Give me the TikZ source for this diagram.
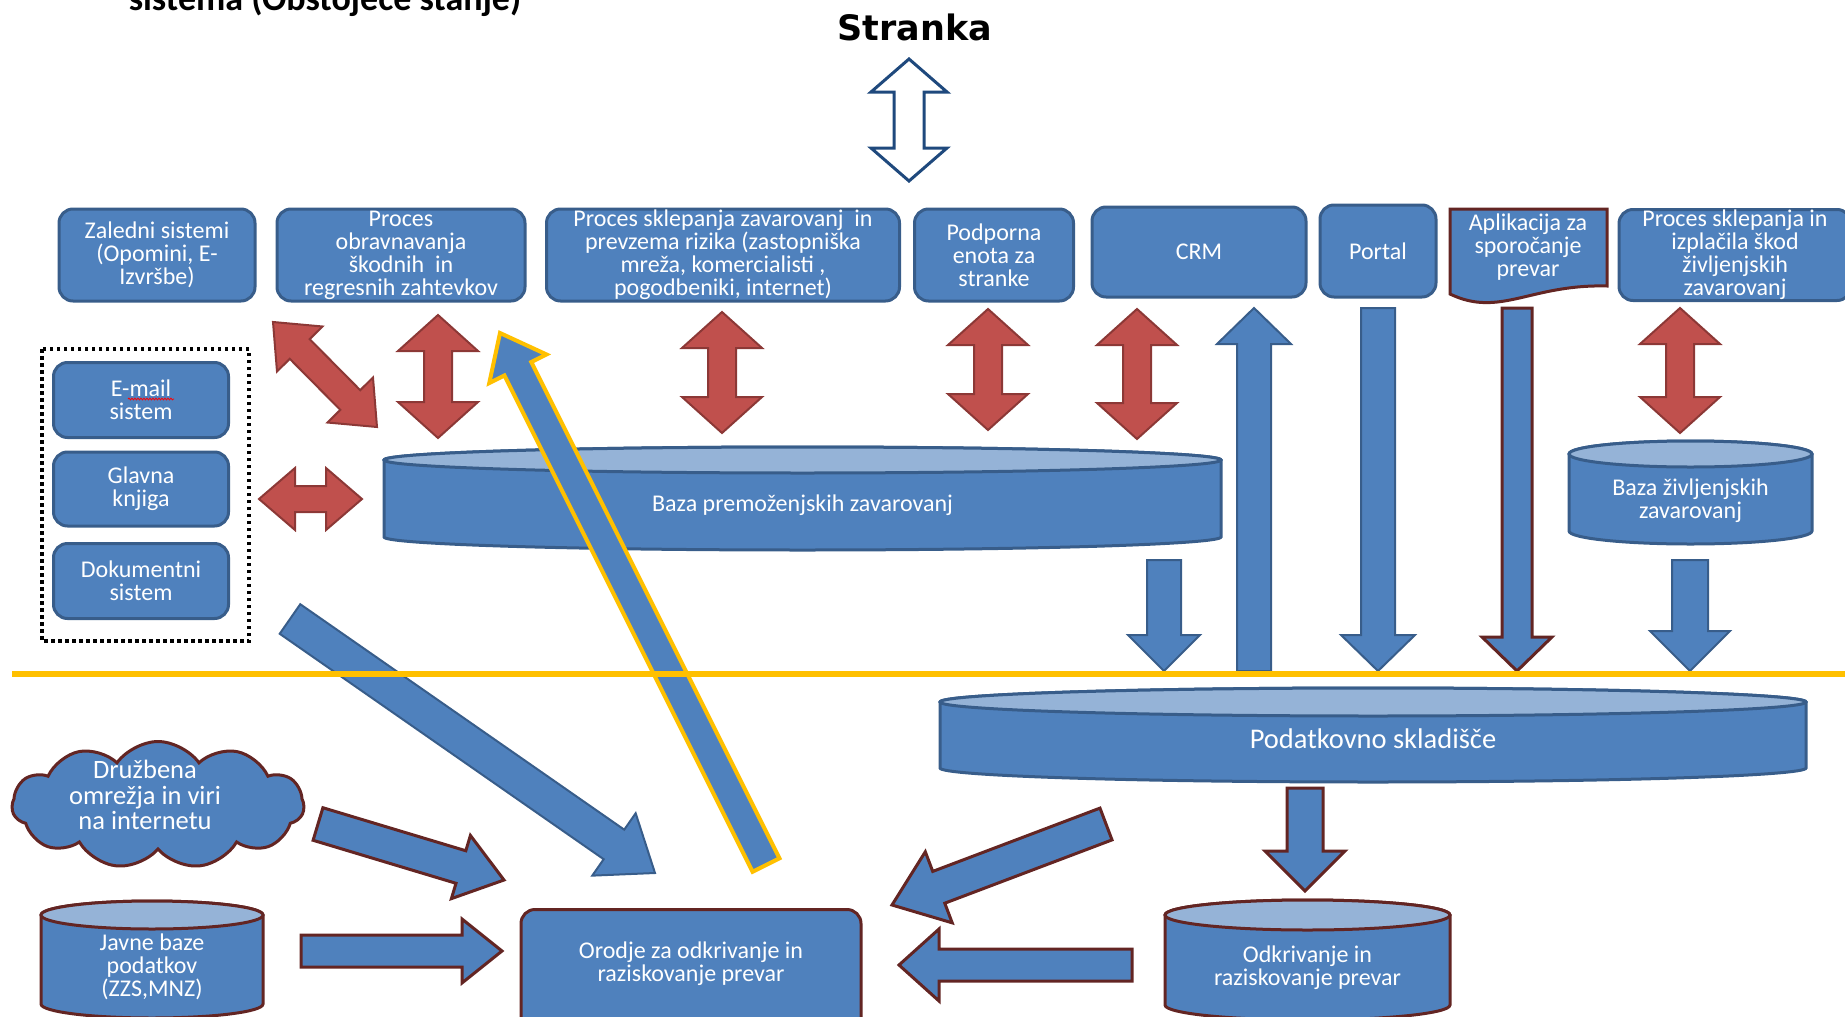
\documentclass[tikz,border=0pt]{standalone}
\usepackage{fontspec}
\setmainfont{Carlito}
\newfontfamily\strankafont{DejaVu Sans}
\usetikzlibrary{calc,shapes.symbols,decorations.pathmorphing}

\definecolor{boxfill}{HTML}{4F81BD}
\definecolor{boxline}{HTML}{385D8A}
\definecolor{cyltop}{HTML}{95B3D7}
\definecolor{redfill}{HTML}{C0504D}
\definecolor{redline}{HTML}{8C3836}
\definecolor{darkred}{HTML}{632523}
\definecolor{sepline}{HTML}{FFC000}
\definecolor{navy}{HTML}{1F497D}

\tikzset{
  txt/.style={text=white, align=center, font=\fontsize{24}{23}\selectfont},
  box/.style={txt, rectangle, rounded corners=14pt, draw=boxline, fill=boxfill, line width=3pt, inner sep=0pt},
  redarr/.style={fill=redfill, draw=redline, line width=2pt},
  bluearr/.style={fill=boxfill, draw=boxline, line width=2pt},
  bluered/.style={fill=boxfill, draw=darkred, line width=3pt},
  blueyel/.style={fill=boxfill, draw=sepline, line width=4pt},
}

% single block arrow: [style]{from}{to}{shaft half}{head half}{head length}
\newcommand{\blockarrow}[6][]{%
  \coordinate (bah) at ($(#3)!#6pt!(#2)$);
  \draw[#1] ($(#2)!#4pt!90:(#3)$) -- ($(bah)!#4pt!90:(#3)$) -- ($(bah)!#5pt!90:(#3)$) -- (#3)
    -- ($(bah)!#5pt!-90:(#3)$) -- ($(bah)!#4pt!-90:(#3)$) -- ($(#2)!#4pt!-90:(#3)$) -- cycle;
}
% double block arrow
\newcommand{\dblarrow}[6][]{%
  \coordinate (bah) at ($(#3)!#6pt!(#2)$);
  \coordinate (bat) at ($(#2)!#6pt!(#3)$);
  \draw[#1] (#2) -- ($(bat)!#5pt!90:(#3)$) -- ($(bat)!#4pt!90:(#3)$) -- ($(bah)!#4pt!90:(#3)$)
    -- ($(bah)!#5pt!90:(#3)$) -- (#3) -- ($(bah)!#5pt!-90:(#3)$) -- ($(bah)!#4pt!-90:(#3)$)
    -- ($(bat)!#4pt!-90:(#3)$) -- ($(bat)!#5pt!-90:(#3)$) -- cycle;
}
% database: {name}{x1}{y1}{x2}{y2}{ry}{line colour}{text style}{text}
\newcommand{\dbcyl}[9]{%
  \pgfmathsetmacro\cylrx{(#4-#2)/2}
  \pgfmathsetmacro\cylcx{(#4+#2)/2}
  \draw[fill=boxfill, draw=#7, line width=3pt] (#2,#3+#6) -- (#2,#5-#6)
    arc[start angle=180, end angle=0, x radius=\cylrx, y radius=#6] -- (#4,#3+#6)
    arc[start angle=0, end angle=-180, x radius=\cylrx, y radius=#6] -- cycle;
  \draw[fill=cyltop, draw=#7, line width=3pt] (\cylcx,#3+#6) ellipse[x radius=\cylrx, y radius=#6];
  \node[txt,#8] (#1) at (\cylcx,{(#3+#5)/2+#6/2}) {#9};
}

\begin{document}
\begin{tikzpicture}[x=1pt, y=-1pt]
\useasboundingbox (0,0) rectangle (1845,1017);
\clip (0,0) rectangle (1845,1017);
%
\node[anchor=base, font=\bfseries\fontsize{36}{40}\selectfont] (naslov) at (325,10) {sistema (Obstoječe stanje)};
\node[font=\strankafont\bfseries\fontsize{35}{40}\selectfont] (stranka) at (915,27) {Stranka};
%
% top row
\node[box, minimum width=196pt, minimum height=92pt] (zaledni) at (157,255) {Zaledni sistemi\\(Opomini, E-\\Izvršbe)};
\node[box, minimum width=248pt, minimum height=92pt] (obravn) at (401,255) {Proces\\obravnavanja\\škodnih\ \ in\\regresnih zahtevkov};
\node[box, minimum width=353pt, minimum height=92pt] (sklep) at (723,255) {Proces sklepanja zavarovanj\ \ in\\prevzema rizika (zastopniška\\mreža, komercialisti ,\\pogodbeniki, internet)};
\node[box, minimum width=159pt, minimum height=92pt] (podpor) at (994,255) {Podporna\\enota za\\stranke};
\node[box, minimum width=214pt, minimum height=90pt] (crm) at (1199,252) {CRM};
\node[box, minimum width=116pt, minimum height=92pt] (portal) at (1378,251) {Portal};
\draw[fill=boxfill, draw=darkred, line width=3pt] (1450,209) -- (1607,209) -- (1607,286)
  .. controls (1530,284) and (1500,318) .. (1450,294) -- cycle;
\node[txt] (aplik) at (1528,247) {Aplikacija za\\sporočanje\\prevar};
\node[box, minimum width=232pt, minimum height=91pt] (zivlj) at (1735,255) {Proces sklepanja in\\izplačila škod\\življenjskih\\zavarovanj};
%
% left group
\draw[line width=3.5pt, dash pattern=on 3.5pt off 3.5pt] (42,349) rectangle (249,641);
\node[box, minimum width=175pt, minimum height=75pt] (email) at (141,400) {E-mail\\sistem};
\draw[red, line width=0.8pt, decorate, decoration={snake, amplitude=0.9pt, segment length=3pt}] (128,399) -- (174,399);
\node[box, minimum width=175pt, minimum height=74pt] (glavna) at (141,489) {Glavna\\knjiga};
\node[box, minimum width=175pt, minimum height=75pt] (dokument) at (141,581) {Dokumentni\\sistem};
%
% databases
\dbcyl{bazap}{384}{447}{1221}{550}{13}{boxline}{}{Baza premoženjskih zavarovanj}
\dbcyl{bazaz}{1569}{441}{1812}{544}{13}{boxline}{yshift=-2pt}{Baza življenjskih\\zavarovanj}
\dbcyl{sklad}{940}{688}{1806}{782}{14}{boxline}{yshift=3pt, font=\fontsize{28.5}{30}\selectfont}{Podatkovno skladišče}
\dbcyl{odkriv}{1165}{900}{1450}{1020}{15}{darkred}{}{Odkrivanje in\\raziskovanje prevar}
\dbcyl{javne}{41}{901}{263}{1018}{14}{darkred}{}{Javne baze\\podatkov\\(ZZS,MNZ)}
%
\node[box, draw=darkred, minimum width=340pt, minimum height=130pt, anchor=north] (orodje) at (691,908) {};
\node[txt] (orodjetxt) at (691,964) {Orodje za odkrivanje in\\raziskovanje prevar};
\node[cloud, cloud puffs=11, cloud puff arc=110, aspect=2.3, draw=darkred, fill=boxfill, line width=3pt,
  minimum width=292pt, minimum height=127pt, inner sep=0pt] (oblak) at (158,805) {};
\node[txt, font=\fontsize{26.5}{25.5}\selectfont] (oblaktxt) at (145,795) {Družbena\\omrežja in viri\\na internetu};
%
% arrow ends
\coordinate (st1) at (909,59);    \coordinate (st2) at (909,181);
\coordinate (r1a) at (273,322);   \coordinate (r1b) at (377,427);
\coordinate (r2a) at (438,315);   \coordinate (r2b) at (438,438);
\coordinate (r3a) at (722,312);   \coordinate (r3b) at (722,433);
\coordinate (r4a) at (988,309);   \coordinate (r4b) at (988,430);
\coordinate (r5a) at (1137,309);  \coordinate (r5b) at (1137,439);
\coordinate (r6a) at (1680,308);  \coordinate (r6b) at (1680,433);
\coordinate (r7a) at (259,499);   \coordinate (r7b) at (362,499);
\coordinate (b1a) at (1254,671);  \coordinate (b1b) at (1254,308);
\coordinate (b2a) at (1378,308);  \coordinate (b2b) at (1378,671);
\coordinate (b3a) at (1517,308);  \coordinate (b3b) at (1517,671);
\coordinate (b4a) at (1164,560);  \coordinate (b4b) at (1164,671);
\coordinate (b5a) at (1690,560);  \coordinate (b5b) at (1690,671);
\coordinate (b6a) at (1305,788);  \coordinate (b6b) at (1305,891);
\coordinate (b7a) at (301,951);   \coordinate (b7b) at (502,951);
\coordinate (b8a) at (318,824);   \coordinate (b8b) at (504,880);
\coordinate (b9a) at (290,619);   \coordinate (b9b) at (655,873);
\coordinate (b10a) at (766,865);  \coordinate (b10b) at (500,333);
\coordinate (b11a) at (1106,824); \coordinate (b11b) at (892,905);
\coordinate (b12a) at (1132,965); \coordinate (b12b) at (899,965);
%
\dblarrow[fill=white, draw=navy, line width=3pt]{st1}{st2}{15}{38}{33}
\dblarrow[redarr]{r1a}{r1b}{14}{32}{38}
\dblarrow[redarr]{r2a}{r2b}{14}{40}{36}
\dblarrow[redarr]{r3a}{r3b}{14}{40}{36}
\dblarrow[redarr]{r4a}{r4b}{14}{40}{36}
\dblarrow[redarr]{r5a}{r5b}{14}{40}{36}
\dblarrow[redarr]{r6a}{r6b}{14}{40}{36}
\dblarrow[redarr]{r7a}{r7b}{13}{31}{36}
%
\blockarrow[bluearr]{b1a}{b1b}{17}{37}{36}
\blockarrow[bluearr]{b2a}{b2b}{17}{37}{36}
\blockarrow[bluered]{b3a}{b3b}{15}{35}{34}
\blockarrow[bluearr]{b4a}{b4b}{17}{36}{36}
\blockarrow[bluearr]{b5a}{b5b}{18}{40}{40}
\blockarrow[bluered]{b6a}{b6b}{18}{40}{40}
\blockarrow[bluered]{b7a}{b7b}{16}{32}{40}
\blockarrow[bluered]{b8a}{b8b}{17}{33}{45}
\blockarrow[bluearr]{b9a}{b9b}{18}{38}{50}
\blockarrow[blueyel]{b10a}{b10b}{15}{32}{40}
\blockarrow[bluered]{b11a}{b11b}{17}{38}{50}
\blockarrow[bluered]{b12a}{b12b}{16}{36}{40}
%
\draw[sepline, line width=6pt] (12,674) -- (1845,674);
\end{tikzpicture}
\end{document}
